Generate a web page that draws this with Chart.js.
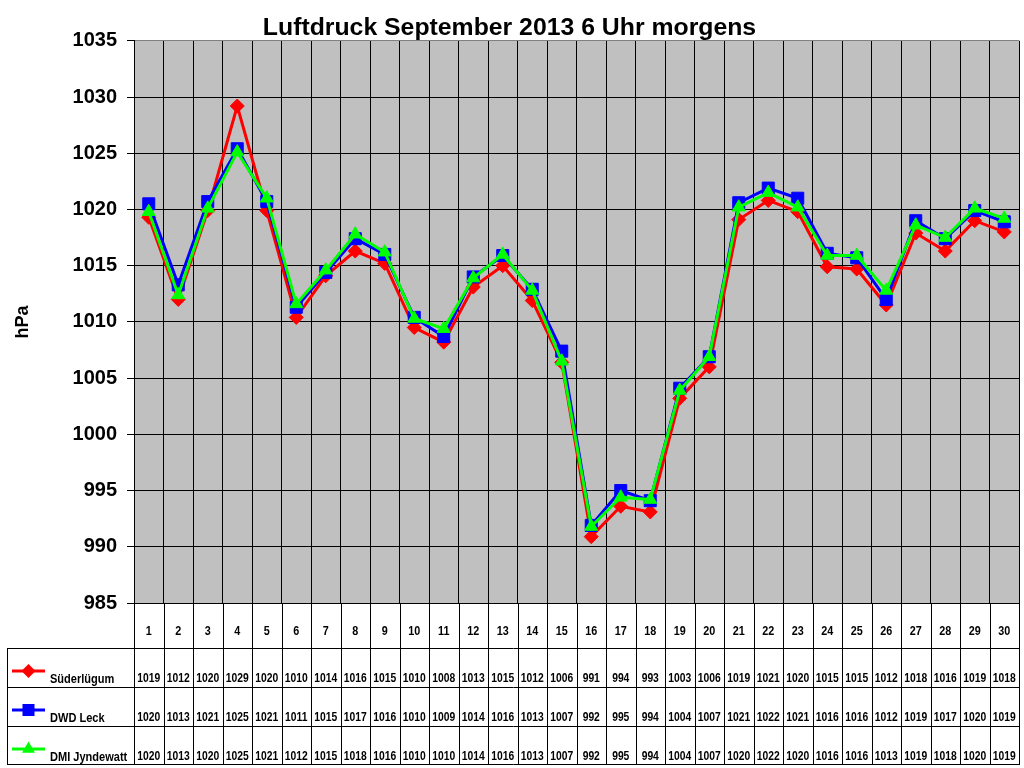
<!DOCTYPE html>
<html>
<head>
<meta charset="utf-8">
<title>Luftdruck September 2013</title>
<script src="https://cdn.jsdelivr.net/npm/chart.js@4"></script>
<style>
  html, body { margin: 0; padding: 0; background: #fff; }
  #wrap { width: 1024px; height: 768px; }
</style>
</head>
<body>
<div id="wrap"><canvas id="pressureChart" width="1024" height="768"></canvas></div>
<script>
// days of the month
const days = ['1','2','3','4','5','6','7','8','9','10','11','12','13','14','15',
              '16','17','18','19','20','21','22','23','24','25','26','27','28','29','30'];

// plotted values (hPa)
const suederluegum = [1019.3,1012.0,1019.9,1029.2,1019.9,1010.4,1014.1,1016.3,1015.2,1009.5,
                      1008.2,1013.1,1015.0,1011.9,1006.4,990.9,993.6,993.1,1003.2,1006.0,
                      1019.1,1020.8,1019.8,1014.9,1014.7,1011.5,1017.9,1016.3,1019.0,1018.0];
const dwdLeck      = [1020.5,1013.3,1020.7,1025.4,1020.7,1011.3,1014.4,1017.4,1016.0,1010.4,
                      1008.7,1014.0,1015.9,1012.9,1007.4,991.9,995.0,994.1,1004.1,1006.9,
                      1020.6,1021.9,1021.0,1016.1,1015.7,1012.0,1019.0,1017.4,1019.9,1018.9];
const dmiJyndewatt = [1019.8,1012.4,1020.1,1025.1,1021.0,1011.6,1014.6,1017.8,1016.2,1010.3,
                      1009.4,1013.9,1016.0,1012.8,1006.5,991.8,994.4,994.2,1003.9,1006.9,
                      1020.2,1021.5,1020.2,1015.9,1015.9,1012.8,1018.6,1017.5,1020.1,1019.2];

// numbers printed in the data table
const tableSued = [1019,1012,1020,1029,1020,1010,1014,1016,1015,1010,1008,1013,1015,1012,1006,
                   991,994,993,1003,1006,1019,1021,1020,1015,1015,1012,1018,1016,1019,1018];
const tableLeck = [1020,1013,1021,1025,1021,1011,1015,1017,1016,1010,1009,1014,1016,1013,1007,
                   992,995,994,1004,1007,1021,1022,1021,1016,1016,1012,1019,1017,1020,1019];
const tableDmi  = [1020,1013,1020,1025,1021,1012,1015,1018,1016,1010,1010,1014,1016,1013,1007,
                   992,995,994,1004,1007,1020,1022,1020,1016,1016,1013,1019,1018,1020,1019];

const seriesNames = ['Süderlügum', 'DWD Leck', 'DMI Jyndewatt'];

const FONT = "'Liberation Sans', Arial, sans-serif";

// grey plot background
const plotBackground = {
    id: 'plotBackground',
    beforeDraw(chart) {
        const a = chart.chartArea, c = chart.ctx;
        c.save();
        c.fillStyle = '#c0c0c0';
        c.fillRect(a.left, a.top, a.right - a.left, a.bottom - a.top);
        c.restore();
    }
};

// narrow text like the Excel table cells
function squeezeText(c, text, x, y, sx) {
    c.save();
    c.translate(x, y);
    c.scale(sx, 1);
    c.fillText(text, 0, 0);
    c.restore();
}

function drawKeyMarker(c, style, x, y, r) {
    if (style === 'rectRot') {
        c.moveTo(x - r, y); c.lineTo(x, y - r); c.lineTo(x + r, y); c.lineTo(x, y + r); c.closePath();
    } else if (style === 'rect') {
        const s = Math.SQRT1_2 * r;
        c.rect(x - s, y - s, 2 * s, 2 * s);
    } else {
        const w = r * Math.sqrt(3) / 2;
        c.moveTo(x - w, y + r / 2); c.lineTo(x, y - r); c.lineTo(x + w, y + r / 2); c.closePath();
    }
}

// data table under the plot, columns taken from the x scale
const dataTable = {
    id: 'dataTable',
    afterDraw(chart) {
        const c = chart.ctx, a = chart.chartArea, xs = chart.scales.x;
        const n = days.length;
        const colW = (a.right - a.left) / n;
        const edges = [];
        for (let i = 0; i <= n; i++) edges.push(a.left + i * colW);
        const rowTops = [648, 687, 726, 764];
        const tableLeft = 7;

        c.save();
        c.strokeStyle = '#000';
        c.lineWidth = 1;
        c.beginPath();
        edges.forEach(x => {
            const px = Math.round(x) + 0.5;
            c.moveTo(px, a.bottom);
            c.lineTo(px, rowTops[3]);
        });
        c.moveTo(tableLeft + 0.5, rowTops[0]);
        c.lineTo(tableLeft + 0.5, rowTops[3]);
        rowTops.forEach(y => {
            c.moveTo(tableLeft, y + 0.5);
            c.lineTo(Math.round(a.right) + 1, y + 0.5);
        });
        c.stroke();

        c.fillStyle = '#000';
        c.textAlign = 'center';
        c.textBaseline = 'middle';
        c.font = 'bold 12px ' + FONT;
        days.forEach((d, i) => {
            squeezeText(c, d, xs.getPixelForValue(i), 632, 0.9);
        });

        const rows = [tableSued, tableLeck, tableDmi];
        rows.forEach((vals, r) => {
            const yMid = rowTops[r] + 31;
            vals.forEach((v, i) => {
                squeezeText(c, String(v), xs.getPixelForValue(i), yMid, 0.86);
            });
        });

        // legend keys
        chart.data.datasets.forEach((ds, r) => {
            const yKey = rowTops[r] + 23;
            c.strokeStyle = ds.borderColor;
            c.lineWidth = 3;
            c.beginPath();
            c.moveTo(12, yKey);
            c.lineTo(45, yKey);
            c.stroke();
            c.fillStyle = ds.pointBackgroundColor;
            c.beginPath();
            drawKeyMarker(c, ds.pointStyle, 28.5, yKey, ds.pointRadius);
            c.fill();
            c.fillStyle = '#000';
            c.textAlign = 'left';
            squeezeText(c, seriesNames[r], 50, rowTops[r] + 32, 0.92);
        });
        c.restore();
    }
};

function makeSet(label, data, color, style, radius, order) {
    return {
        label: label,
        data: data,
        borderColor: color,
        backgroundColor: color,
        pointBackgroundColor: color,
        pointBorderColor: color,
        pointStyle: style,
        pointRadius: radius,
        pointBorderWidth: 1,
        borderWidth: 3,
        tension: 0,
        order: order
    };
}

const ctx = document.getElementById('pressureChart').getContext('2d');
new Chart(ctx, {
    type: 'line',
    data: {
        labels: days,
        datasets: [
            makeSet(seriesNames[0], suederluegum, '#ff0000', 'rectRot', 7, 3),
            makeSet(seriesNames[1], dwdLeck, '#0000ff', 'rect', 8.5, 2),
            makeSet(seriesNames[2], dmiJyndewatt, '#00ff00', 'triangle', 7.5, 1)
        ]
    },
    options: {
        responsive: false,
        animation: false,
        layout: { autoPadding: false, padding: { left: 0, right: 5, top: 0, bottom: 165 } },
        plugins: {
            legend: { display: false },
            tooltip: { enabled: false },
            title: {
                display: true,
                text: 'Luftdruck September 2013 6 Uhr morgens',
                color: '#000',
                font: { family: FONT, size: 24.8, weight: 'bold', lineHeight: 1 },
                padding: { top: 16, bottom: 0 }
            }
        },
        scales: {
            x: {
                offset: true,
                ticks: { display: false },
                grid: {
                    offset: true,
                    drawTicks: false,
                    color: ctx => ctx.index === days.length ? '#808080' : '#000',
                    lineWidth: 1
                },
                border: { color: '#000', width: 1 },
                afterFit: axis => { axis.height = 0; }
            },
            y: {
                min: 985,
                max: 1035,
                ticks: {
                    stepSize: 5,
                    color: '#000',
                    padding: 10,
                    font: { family: FONT, size: 20, weight: 'bold' },
                    callback: v => String(v)
                },
                grid: {
                    color: ctx => ctx.tick && ctx.tick.value === 1035 ? '#808080' : '#000',
                    tickColor: '#000',
                    tickLength: 7,
                    lineWidth: 1
                },
                border: { color: '#000', width: 1 },
                title: {
                    display: true,
                    text: 'hPa',
                    color: '#000',
                    font: { family: FONT, size: 18, weight: 'bold' },
                    padding: { top: 12, bottom: 0 }
                },
                afterFit: axis => { axis.width = 134; }
            }
        }
    },
    plugins: [plotBackground, dataTable]
});
</script>
</body>
</html>
